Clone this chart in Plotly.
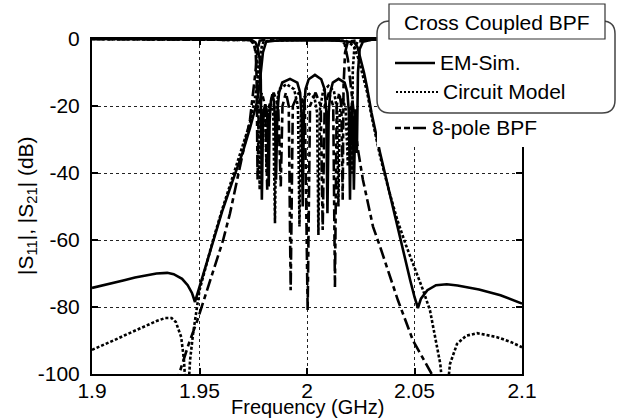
import plotly.graph_objects as go

# ---------------- data ----------------
x_ticks = [1.9, 1.95, 2.0, 2.05, 2.1]
x_tick_text = ["1.9", "1.95", "2", "2.05", "2.1"]
y_ticks = [0, -20, -40, -60, -80, -100]
y_tick_text = ["0", "-20", "-40", "-60", "-80", "-100"]

# EM-Sim. (solid)
em_s21_f = [1.900, 1.905, 1.910, 1.915, 1.920, 1.925, 1.930, 1.935, 1.938, 1.9419, 1.9445, 1.9465,
            1.9479, 1.950, 1.953, 1.9563, 1.9605, 1.9656, 1.970, 1.9735, 1.9767, 1.978, 1.9795, 1.981,
            1.985, 1.990, 2.000, 2.010, 2.015, 2.020, 2.022, 2.0235, 2.025, 2.0265, 2.0278, 2.030,
            2.034, 2.038, 2.042, 2.0455, 2.048, 2.050, 2.0516, 2.053, 2.056, 2.060, 2.065, 2.070,
            2.080, 2.090, 2.095, 2.100]
em_s21_db = [-74.3, -73.6, -72.8, -72.0, -71.2, -70.5, -70.0, -69.8, -70.2, -71.6, -73.5, -75.8,
             -78.5, -74.0, -67.5, -60.0, -51.5, -42.0, -34.0, -26.5, -19.0, -13.0, -4.0, -0.8,
             -0.5, -0.4, -0.3, -0.4, -0.5, -0.7, -1.0, -2.5, -6.0, -10.0, -14.0, -22.0,
             -34.0, -45.0, -56.0, -65.0, -72.0, -77.0, -80.3, -77.5, -75.0, -73.5, -73.2, -73.6,
             -74.8, -76.5, -77.8, -79.0]
em_s11_f = [1.900, 1.974, 1.976, 1.977, 1.978, 1.9785, 1.9790, 1.9795, 1.9800, 1.9806, 1.9812, 1.9818,
            1.9822, 1.9826, 1.9832, 1.9839, 1.9846, 1.9852, 1.9856, 1.9862, 1.9870, 1.9885, 1.9921,
            1.9955, 1.9968, 1.9975, 1.9980, 1.9986, 1.9993, 2.0008, 2.0037, 2.0066, 2.0082, 2.0090,
            2.0095, 2.0101, 2.0108, 2.0120, 2.0147, 2.0175, 2.0188, 2.0195, 2.0200, 2.0204, 2.0209,
            2.0214, 2.0218, 2.0221, 2.0225, 2.0229, 2.0232, 2.0237, 2.0245, 2.0260, 2.0300, 2.100]
em_s11_db = [0.0, -0.2, -1.0, -2.5, -6.0, -12.0, -48.0, -26.0, -21.0, -19.5, -21.0, -27.0,
             -44.0, -25.0, -18.5, -16.5, -18.5, -25.0, -42.0, -22.0, -16.0, -13.0, -11.9,
             -13.0, -16.0, -23.0, -50.0, -22.0, -15.0, -12.0, -10.7, -12.0, -15.0, -22.0,
             -52.0, -22.0, -16.0, -13.0, -11.9, -13.0, -16.0, -22.0, -48.0, -26.0, -19.0,
             -26.0, -45.0, -28.0, -21.0, -27.0, -34.0, -10.0, -3.0, -0.8, -0.2, 0.0]

# Circuit Model (dotted)
cm_s21_f = [1.900, 1.905, 1.910, 1.915, 1.920, 1.925, 1.930, 1.934, 1.937, 1.939, 1.9415, 1.9428,
            1.9442, 1.9456, 1.947, 1.950, 1.953, 1.9563, 1.9605, 1.9656, 1.970, 1.9735, 1.976,
            1.9775, 1.979, 1.980, 1.990, 2.000, 2.010, 2.018, 2.0205, 2.022, 2.024, 2.026, 2.028,
            2.030, 2.034, 2.038, 2.042, 2.046, 2.0493, 2.052, 2.054, 2.0572, 2.060, 2.062, 2.0642,
            2.0665, 2.0698, 2.074, 2.0791, 2.0884, 2.095, 2.100]
cm_s21_db = [-92.8, -91.5, -90.0, -88.5, -87.0, -85.5, -84.2, -83.3, -83.3, -84.5, -89.0, -96.0,
             -112.0, -96.0, -88.0, -75.0, -67.5, -60.0, -51.0, -41.0, -32.5, -25.0, -17.0,
             -9.0, -2.0, -0.6, -0.3, -0.2, -0.3, -0.5, -1.5, -2.5, -6.0, -11.0, -16.0,
             -23.0, -35.0, -45.0, -54.0, -61.5, -67.0, -71.5, -75.0, -81.0, -90.0, -97.0, -112.0,
             -97.0, -91.0, -88.6, -87.8, -89.0, -90.5, -92.0]
cm_s11_f = [1.900, 1.973, 1.975, 1.976, 1.977, 1.9780, 1.9786, 1.9796, 1.9806, 1.9812, 1.9818, 1.9831,
            1.9843, 1.9851, 1.9858, 1.9870, 1.9905, 1.9940, 1.9958, 1.9965, 1.9972, 1.9985, 2.0010,
            2.0035, 2.0047, 2.0053, 2.0060, 2.0075, 2.0100, 2.0125, 2.0140, 2.0146, 2.0152, 2.0165,
            2.0180, 2.0190, 2.0196, 2.0203, 2.0209, 2.0213, 2.0220, 2.0235, 2.0300, 2.100]
cm_s11_db = [0.0, -0.3, -1.2, -3.0, -8.0, -45.0, -24.0, -21.0, -24.0, -40.0, -23.0, -19.0,
             -22.0, -55.0, -20.0, -15.0, -13.5, -15.0, -20.0, -56.0, -22.0, -17.5, -16.4,
             -17.5, -22.0, -58.5, -21.0, -15.5, -14.0, -15.5, -21.0, -50.0, -22.0, -17.5,
             -21.0, -38.0, -22.0, -20.0, -40.0, -9.0, -3.0, -0.8, -0.2, 0.0]

# 8-pole BPF (dash)
bp_s21_f = [1.930, 1.9380, 1.9405, 1.9450, 1.949, 1.955, 1.961, 1.9642, 1.9665, 1.970, 1.9735, 1.976,
            1.977, 1.978, 1.980, 1.990, 2.000, 2.010, 2.016, 2.0175, 2.019, 2.0214, 2.0237, 2.026,
            2.0307, 2.034, 2.038, 2.0423, 2.0493, 2.058, 2.062]
bp_s21_db = [-125.0, -110.0, -100.0, -91.0, -84.0, -72.0, -60.0, -52.0, -45.0, -35.0, -24.0, -10.0,
             -3.0, -0.5, -0.3, -0.2, -0.2, -0.2, -0.3, -1.5, -6.0, -20.0, -33.0, -42.0,
             -56.0, -62.0, -70.0, -78.0, -90.0, -100.0, -106.0]
bp_s11_f = [1.900, 1.9735, 1.9755, 1.9762, 1.9766, 1.9770, 1.9776, 1.9790, 1.9805, 1.9815, 1.9824,
            1.9845, 1.9866, 1.9878, 1.9886, 1.9902, 1.9915, 1.9924, 1.9934, 1.9962, 1.9990, 2.0003,
            2.0014, 2.0040, 2.0064, 2.0073, 2.0082, 2.0102, 2.0122, 2.0130, 2.0138, 2.0150, 2.0160,
            2.0166, 2.0170, 2.0177, 2.0190, 2.0250, 2.100]
bp_s11_db = [0.0, -0.3, -1.5, -5.0, -12.0, -42.0, -20.0, -16.0, -20.0, -45.0, -20.0,
             -16.0, -20.0, -44.0, -20.0, -16.0, -20.0, -75.0, -20.0, -16.0, -20.0, -81.0,
             -20.0, -16.0, -20.0, -57.0, -20.0, -16.0, -20.0, -74.0, -20.0, -16.0, -20.0,
             -48.0, -14.0, -4.0, -0.8, -0.2, 0.0]

legend_title = "Cross Coupled BPF"
legend_names = ["EM-Sim.", "Circuit Model", "8-pole BPF"]

# ---------------- styling ----------------
FONT = "Liberation Sans, Arial, Helvetica, sans-serif"
W, H = 622, 419
L, R, T, B = 92, 522, 39, 374

def px(x):
    return (x - L) / (R - L)

def py(y):
    return (B - y) / (B - T)

styles = {
    "em": dict(color="black", width=2.6, dash="solid"),
    "cm": dict(color="black", width=2.6, dash="3px,2px"),
    "bp": dict(color="black", width=2.6, dash="12px,4px,5px,4px"),
}

fig = go.Figure()
for f, d, st in [
    (em_s21_f, em_s21_db, "em"), (em_s11_f, em_s11_db, "em"),
    (cm_s21_f, cm_s21_db, "cm"), (cm_s11_f, cm_s11_db, "cm"),
    (bp_s21_f, bp_s21_db, "bp"), (bp_s11_f, bp_s11_db, "bp"),
]:
    fig.add_trace(go.Scatter(x=f, y=d, mode="lines", line=styles[st],
                             showlegend=False, hoverinfo="skip"))

axis_common = dict(
    showline=True, linecolor="black", linewidth=2, mirror="ticks",
    ticks="inside", ticklen=6, tickwidth=1.5, tickcolor="black",
    showgrid=True, gridcolor="#222", griddash="dot", gridwidth=1,
    zeroline=False, tickfont=dict(family=FONT, size=21, color="black"),
)
fig.update_xaxes(range=[1.9, 2.1], tickvals=x_ticks, ticktext=x_tick_text,
                 ticklabelstandoff=-3, **axis_common)
fig.update_yaxes(range=[-100, 0], tickvals=y_ticks, ticktext=y_tick_text,
                 ticklabelstandoff=6, **axis_common)

shapes = []
# white background behind the legend
shapes.append(dict(type="rect", xref="paper", yref="paper", layer="above",
                   x0=px(377), x1=px(617), y0=py(147), y1=py(21),
                   fillcolor="white", line=dict(width=0)))
# rounded box
x0, y0, x1, y1, r = 377, 21, 615, 113, 13
path = (f"M {px(x0+r)},{py(y0)} L {px(x1-r)},{py(y0)} Q {px(x1)},{py(y0)} {px(x1)},{py(y0+r)} "
        f"L {px(x1)},{py(y1-r)} Q {px(x1)},{py(y1)} {px(x1-r)},{py(y1)} "
        f"L {px(x0+r)},{py(y1)} Q {px(x0)},{py(y1)} {px(x0)},{py(y1-r)} "
        f"L {px(x0)},{py(y0+r)} Q {px(x0)},{py(y0)} {px(x0+r)},{py(y0)} Z")
shapes.append(dict(type="path", xref="paper", yref="paper", layer="above", path=path,
                   line=dict(color="#444", width=1.5)))
# title box
shapes.append(dict(type="rect", xref="paper", yref="paper", layer="above",
                   x0=px(389), x1=px(605), y0=py(39), y1=py(4),
                   fillcolor="white", line=dict(color="#333", width=1.2)))
# legend samples
shapes.append(dict(type="line", xref="paper", yref="paper", layer="above",
                   x0=px(395), x1=px(435), y0=py(63), y1=py(63),
                   line=dict(color="black", width=2.4)))
shapes.append(dict(type="line", xref="paper", yref="paper", layer="above",
                   x0=px(396), x1=px(438), y0=py(92), y1=py(92),
                   line=dict(color="black", width=2, dash="2px,2px")))
shapes.append(dict(type="line", xref="paper", yref="paper", layer="above",
                   x0=px(395), x1=px(426), y0=py(128), y1=py(128),
                   line=dict(color="black", width=2.4, dash="6px,3px,6px,3px,13px,40px")))

annotations = [
    dict(text=legend_title, x=px(497), y=py(22), xref="paper", yref="paper",
         showarrow=False, xanchor="center", yanchor="middle",
         font=dict(family=FONT, size=21, color="black")),
    dict(text=legend_names[0], x=px(438), y=py(63), xref="paper", yref="paper",
         showarrow=False, xanchor="left", yanchor="middle",
         font=dict(family=FONT, size=21, color="black")),
    dict(text=legend_names[1], x=px(441), y=py(92), xref="paper", yref="paper",
         showarrow=False, xanchor="left", yanchor="middle",
         font=dict(family=FONT, size=21, color="black")),
    dict(text=legend_names[2], x=px(430), y=py(128), xref="paper", yref="paper",
         showarrow=False, xanchor="left", yanchor="middle",
         font=dict(family=FONT, size=21, color="black")),
    dict(text="Frequency (GHz)", x=px(307), y=py(407), xref="paper", yref="paper",
         showarrow=False, xanchor="center", yanchor="middle", borderpad=0,
         font=dict(family=FONT, size=20, color="black")),
    dict(text="|S<sub>11</sub>|, |S<sub>21</sub>| (dB)", x=px(27), y=py(206),
         xref="paper", yref="paper", textangle=-90,
         showarrow=False, xanchor="center", yanchor="middle",
         font=dict(family=FONT, size=21, color="black")),
]

fig.update_layout(
    width=W, height=H,
    margin=dict(l=L, r=W - R, t=T, b=H - B, pad=0),
    paper_bgcolor="white", plot_bgcolor="white",
    showlegend=False, shapes=shapes, annotations=annotations,
    font=dict(family=FONT, size=21, color="black"),
)

fig.write_html("out.html")
